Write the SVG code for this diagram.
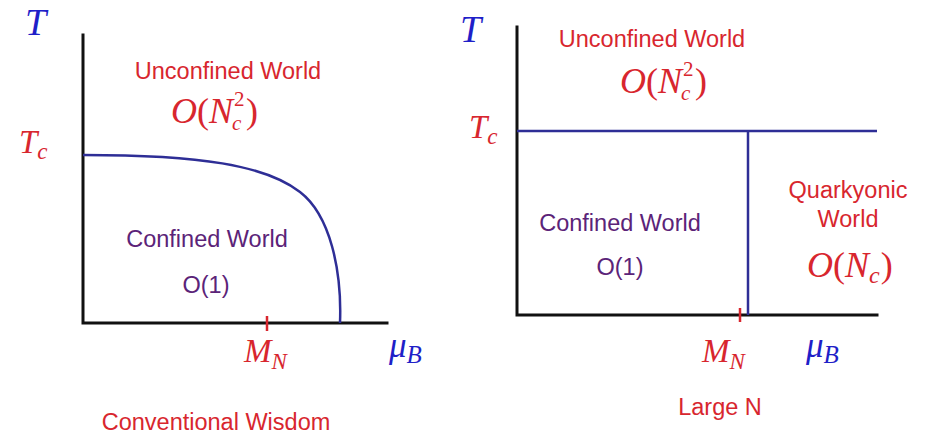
<svg xmlns="http://www.w3.org/2000/svg" width="925" height="438" viewBox="0 0 925 438">
<style>
.axis{stroke:#111;stroke-width:3;fill:none;stroke-linecap:square}
.bound{stroke:#2e2e96;stroke-width:2.5;fill:none}
.tick{stroke:#d8262e;stroke-width:2.5}
.lbl{font-family:"Liberation Sans",Arial,sans-serif;font-size:23.5px;text-anchor:middle}
.red{fill:#d8262e}
.pur{fill:#5b2378}
.blue{fill:#1f1fc8}
.math{font-family:"Liberation Serif","Times New Roman",serif}
.it{font-style:italic}
</style>
<rect width="925" height="438" fill="#ffffff"/>
<g id="connectors">
<path class="axis" d="M83,35 V323 H387"/>
<path class="bound" d="M83,155 C200,155 265,165 300,192 C330,215 342,270 340,323"/>
<line class="tick" x1="267" y1="316" x2="267" y2="331"/>
<path class="axis" d="M517,27 V315 H877"/>
<line class="bound" x1="517" y1="131" x2="877" y2="131"/>
<line class="bound" x1="748" y1="131" x2="748" y2="315"/>
<line class="tick" x1="740" y1="308" x2="740" y2="322"/>
</g>
<g id="left-axis-labels">
<text class="math it blue" x="25" y="35" font-size="38">T</text>
<text class="math red" x="19" y="153" font-size="33"><tspan class="it">T</tspan><tspan class="it" font-size="23" dy="6">c</tspan></text>
<text class="math red" x="244" y="362" font-size="33"><tspan class="it">M</tspan><tspan class="it" font-size="23" dy="7">N</tspan></text>
<text class="math blue" x="389" y="357" font-size="35"><tspan class="it">μ</tspan><tspan class="it" font-size="25" dy="6">B</tspan></text>
</g>
<g id="left-unconfined">
<text class="lbl red" x="228" y="79">Unconfined World</text>
<text class="math red" x="171" y="123" font-size="36"><tspan class="it">O</tspan>(<tspan class="it">N</tspan></text>
<text class="math red" x="234" y="106" font-size="21">2</text>
<text class="math it red" x="232" y="130" font-size="21">c</text>
<text class="math red" x="246" y="123" font-size="36">)</text>
</g>
<g id="left-confined">
<text class="lbl pur" x="207" y="247">Confined World</text>
<text class="lbl pur" x="206" y="293" font-size="21.5">O(1)</text>
</g>
<g id="left-caption">
<text class="lbl red" x="216" y="430">Conventional Wisdom</text>
</g>
<g id="right-axis-labels">
<text class="math it blue" x="460" y="42" font-size="38">T</text>
<text class="math red" x="469" y="138" font-size="33"><tspan class="it">T</tspan><tspan class="it" font-size="23" dy="6">c</tspan></text>
<text class="math red" x="702" y="362" font-size="33"><tspan class="it">M</tspan><tspan class="it" font-size="23" dy="7">N</tspan></text>
<text class="math blue" x="806" y="357" font-size="35"><tspan class="it">μ</tspan><tspan class="it" font-size="25" dy="6">B</tspan></text>
</g>
<g id="right-unconfined">
<text class="lbl red" x="652" y="47">Unconfined World</text>
<text class="math red" x="620" y="93" font-size="36"><tspan class="it">O</tspan>(<tspan class="it">N</tspan></text>
<text class="math red" x="683" y="76" font-size="21">2</text>
<text class="math it red" x="681" y="100" font-size="21">c</text>
<text class="math red" x="695" y="93" font-size="36">)</text>
</g>
<g id="right-confined">
<text class="lbl pur" x="620" y="231">Confined World</text>
<text class="lbl pur" x="620" y="275" font-size="21.5">O(1)</text>
</g>
<g id="right-quarkyonic">
<text class="lbl red" x="848" y="198">Quarkyonic</text>
<text class="lbl red" x="848" y="227">World</text>
<text class="math red" x="807" y="277" font-size="36"><tspan class="it">O</tspan>(<tspan class="it">N</tspan><tspan class="it" font-size="24" dy="6">c</tspan><tspan dx="1" dy="-6">)</tspan></text>
</g>
<g id="right-caption">
<text class="lbl red" x="720" y="415" font-size="22.5">Large N</text>
</g>
</svg>
